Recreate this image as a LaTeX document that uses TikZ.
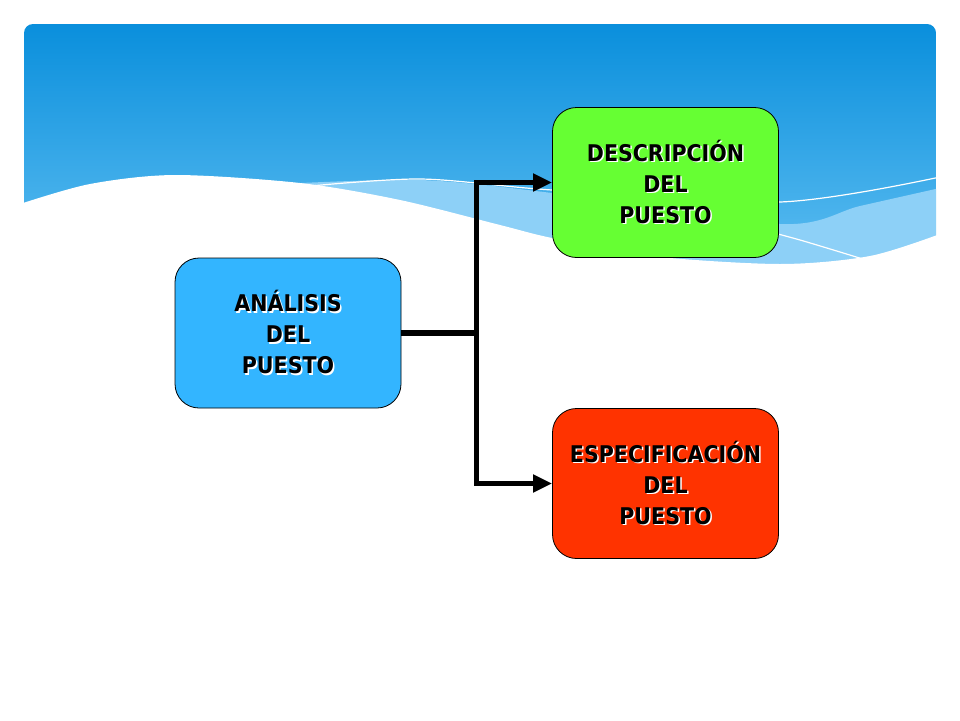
\documentclass[tikz,border=0pt]{standalone}
\usepackage{fontspec}
\newfontfamily\boxfont[FakeStretch=0.895]{DejaVu Sans}
\usetikzlibrary{arrows.meta, positioning, calc}
\definecolor{skytop}{HTML}{0A8FDC}
\definecolor{skylow}{HTML}{60BFF2}
\definecolor{skylight}{HTML}{8DD0F7}
\definecolor{anablue}{HTML}{33B5FF}
\definecolor{descgreen}{HTML}{66FF33}
\definecolor{espered}{HTML}{FF3300}
\newcommand{\shadowtxt}[1]{\makebox[0pt][l]{\hspace{1.5pt}\raisebox{-1.5pt}{\color{white}#1}}#1}
\tikzset{
    stage/.style={
        rectangle,
        rounded corners=24pt,
        draw=black,
        line width=0.8pt,
        minimum width=226pt,
        minimum height=150pt,
        align=center,
        font=\boxfont\bfseries\fontsize{23}{31}\selectfont
    },
    wire/.style={
        draw=black,
        line width=5.5pt
    },
    bus/.style={
        draw=black,
        line width=5.5pt,
        line join=miter,
        -{Triangle[length=19pt,width=17pt]}
    },
    streak/.style={
        draw=white,
        line width=1.2pt
    }
}

\begin{document}
\begin{tikzpicture}[x=1pt, y=-1pt]
\useasboundingbox (0,0) rectangle (960,720);
\fill[white] (0,0) rectangle (960,720);

% Sky header with wave
\begin{scope}
\clip[rounded corners=9pt] (24,24) rectangle (936,320);
\shade[top color=skytop, bottom color=skylow] (24,24) rectangle (936,280);
\fill[skylight] plot[smooth] coordinates {(280,184) (420,180) (552,193) (780,224) (860,206) (940,188)} -- (940,320) -- (280,320) -- cycle;
\draw[streak] plot[smooth] coordinates {(300,187) (420,179) (552,190) (780,202) (940,177)};
\draw[streak] plot[smooth] coordinates {(740,224) (800,240) (866,260)};
\end{scope}
\fill[white] (0,204) -- plot[smooth] coordinates {(20,204) (90,184) (175,175) (300,183) (400,200) (500,225) (552,238) (650,256) (780,264) (870,256) (940,234)} -- (960,228) -- (960,340) -- (0,340) -- cycle;

% Boxes
\node[stage, fill=anablue] (ana) at (288,333) {\shadowtxt{ANÁLISIS}\\\shadowtxt{DEL}\\\shadowtxt{PUESTO}};
\node[stage, fill=descgreen] (desc) at (665.5,182.5) {\shadowtxt{DESCRIPCIÓN}\\\shadowtxt{DEL}\\\shadowtxt{PUESTO}};
\node[stage, fill=espered] (espe) at (665.5,483.5) {\shadowtxt{ESPECIFICACIÓN}\\\shadowtxt{DEL}\\\shadowtxt{PUESTO}};

% Connections
\coordinate (fork) at ($(ana.east)+(75,0)$);
\draw[wire] (ana.east) -- (fork);
\draw[bus] (fork) |- (desc.west);
\draw[bus] (fork) |- (espe.west);

\end{tikzpicture}
\end{document}
